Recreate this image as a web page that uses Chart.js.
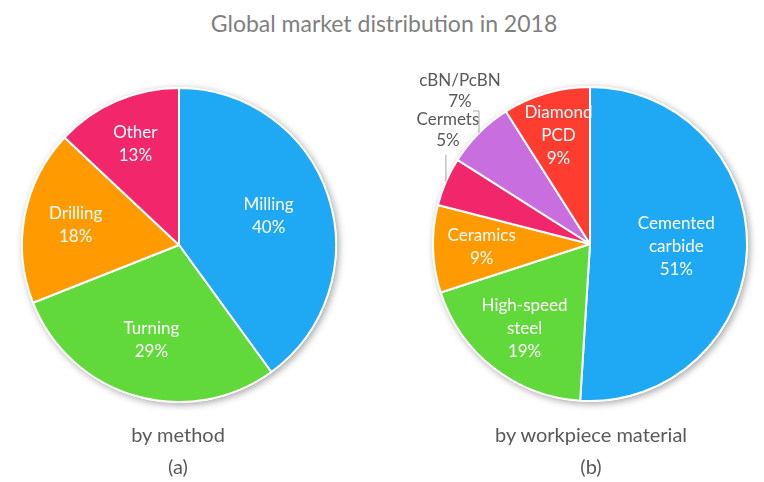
<!DOCTYPE html>
<html>
<head>
<meta charset="utf-8">
<script src="https://cdn.jsdelivr.net/npm/chart.js@4.4.1/dist/chart.umd.min.js"></script>
<style>
  body { margin: 0; background: #fff; font-family: Lato, "Open Sans", sans-serif; }
  #wrap { position: relative; width: 764px; height: 482px; overflow: hidden; }
  .txt { position: absolute; transform: translate(-50%, -50%); white-space: nowrap; color: #595959; }
  canvas { position: absolute; }
</style>
</head>
<body>
<div id="wrap">
  <div class="txt" style="left:384px;top:23px;font-size:23px;color:#808080">Global market distribution in 2018</div>
  <canvas id="methodChart" width="360" height="360" style="left:-1px;top:65px"></canvas>
  <canvas id="materialChart" width="360" height="360" style="left:410px;top:64px"></canvas>
  <div class="txt" style="left:178px;top:434px;font-size:20px">by method</div>
  <div class="txt" style="left:178px;top:466px;font-size:20px">(a)</div>
  <div class="txt" style="left:591px;top:434px;font-size:20px">by workpiece material</div>
  <div class="txt" style="left:591px;top:466px;font-size:20px">(b)</div>
</div>
<script>
const methodLabels = ['Milling', 'Turning', 'Drilling', 'Other'];
const methodValues = [40, 29, 18, 13];
const methodColors = ['#1fa9f4', '#62d93b', '#ff9a00', '#f2266a'];

const materialLabels = ['Cemented\ncarbide', 'High-speed\nsteel', 'Ceramics', 'Cermets', 'cBN/PcBN', 'Diamond\nPCD'];
const materialValues = [51, 19, 9, 5, 7, 9];
const materialColors = ['#1fa9f4', '#62d93b', '#ff9a00', '#f2266a', '#c86edf', '#ff3c30'];

// soft shadow behind the whole pie
const pieShadow = {
  id: 'pieShadow',
  beforeDatasetsDraw(chart) {
    const arc = chart.getDatasetMeta(0).data[0];
    const {x, y, outerRadius} = arc.getProps(['x', 'y', 'outerRadius'], true);
    const ctx = chart.ctx;
    ctx.save();
    ctx.shadowColor = 'rgba(0,0,0,0.35)';
    ctx.shadowBlur = 7;
    ctx.shadowOffsetX = 2;
    ctx.shadowOffsetY = 2;
    ctx.fillStyle = '#fff';
    ctx.beginPath();
    ctx.arc(x, y, outerRadius + 1, 0, Math.PI * 2);
    ctx.fill();
    ctx.restore();
  }
};

const sliceLabels = {
  id: 'sliceLabels',
  afterDatasetsDraw(chart, args, opts) {
    const ctx = chart.ctx;
    const meta = chart.getDatasetMeta(0);
    const values = chart.data.datasets[0].data;
    ctx.save();
    ctx.font = '17px Lato';
    ctx.textAlign = 'center';
    ctx.textBaseline = 'middle';
    meta.data.forEach((arc, i) => {
      const {x, y, startAngle, endAngle, outerRadius} =
        arc.getProps(['x', 'y', 'startAngle', 'endAngle', 'outerRadius'], true);
      const mid = (startAngle + endAngle) / 2;
      const lines = chart.data.labels[i].split('\n').concat(values[i] + '%');
      const out = opts.outside && opts.outside[i];
      let cx, cy, lh;
      if (out) {
        const ex = x + Math.cos(mid) * outerRadius;
        const ey = y + Math.sin(mid) * outerRadius;
        ctx.strokeStyle = '#a6a6a6';
        ctx.lineWidth = 1;
        ctx.beginPath();
        out.leader.forEach(([lx, ly], k) => k ? ctx.lineTo(ex + lx, ey + ly) : ctx.moveTo(ex + lx, ey + ly));
        ctx.stroke();
        cx = ex + out.dx;
        cy = ey + out.dy;
        lh = 21;
        ctx.fillStyle = '#595959';
      } else {
        const f = opts.radius[i];
        cx = x + Math.cos(mid) * outerRadius * f;
        cy = y + Math.sin(mid) * outerRadius * f;
        lh = 23;
        ctx.fillStyle = '#ffffff';
      }
      lines.forEach((t, k) => {
        ctx.fillText(t, cx, cy + (k - (lines.length - 1) / 2) * lh);
      });
    });
    ctx.restore();
  }
};

function makePie(id, labels, values, colors, labelOpts) {
  return new Chart(document.getElementById(id).getContext('2d'), {
    type: 'pie',
    data: {
      labels,
      datasets: [{
        data: values,
        backgroundColor: colors,
        borderColor: '#ffffff',
        borderWidth: 2
      }]
    },
    options: {
      responsive: false,
      animation: false,
      layout: { padding: 22 },
      plugins: {
        legend: { display: false },
        tooltip: { enabled: false },
        sliceLabels: labelOpts
      }
    },
    plugins: [pieShadow, sliceLabels]
  });
}

makePie('methodChart', methodLabels, methodValues, methodColors, {
  radius: [0.6, 0.63, 0.67, 0.7]
});

makePie('materialChart', materialLabels, materialValues, materialColors, {
  radius: [0.55, 0.68, 0.69, 0, 0, 0.72],
  outside: {
    3: { dx: 2, dy: -52, leader: [[0, 0], [0, -27]] },
    4: { dx: -19, dy: -42, leader: [[0, 0], [0, -22], [-6, -22]] }
  }
});
</script>
</body>
</html>
